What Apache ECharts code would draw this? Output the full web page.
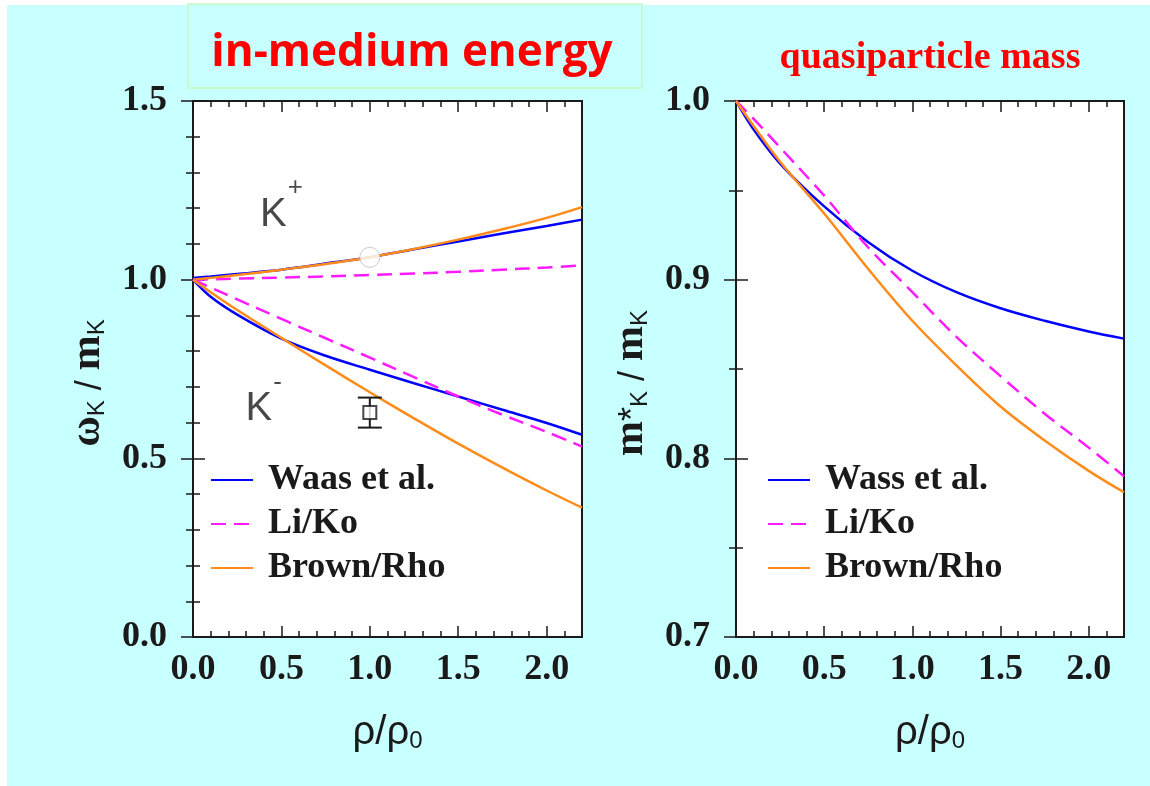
<!DOCTYPE html>
<html>
<head>
<meta charset="utf-8">
<script src="https://cdn.jsdelivr.net/npm/echarts@6/dist/echarts.min.js"></script>
<style>
html, body { margin: 0; padding: 0; background: #fff; }
#bg { position: absolute; left: 7px; top: 5px; width: 1143px; height: 781px; background: #c8ffff; }
#main { position: absolute; left: 0; top: 0; width: 1150px; height: 786px; }
</style>
</head>
<body>
<div id="bg"></div>
<div id="main"></div>
<script>
// density grid rho/rho0
var rho = [0, 0.1, 0.25, 0.5, 0.75, 1.0, 1.25, 1.5, 1.75, 2.0, 2.2];

// left panel: in-medium energy omega_K / m_K
var waasKplus  = [1.005, 1.009, 1.016, 1.028, 1.045, 1.063, 1.085, 1.107, 1.129, 1.150, 1.168];
var likoKplus  = [1.000, 1.001, 1.003, 1.006, 1.009, 1.013, 1.017, 1.022, 1.028, 1.034, 1.040];
var brownKplus = [1.000, 1.005, 1.013, 1.028, 1.044, 1.063, 1.086, 1.112, 1.141, 1.173, 1.203];
var waasKminus  = [1.000, 0.952, 0.902, 0.835, 0.787, 0.748, 0.710, 0.673, 0.636, 0.599, 0.566];
var likoKminus  = [1.000, 0.978, 0.945, 0.890, 0.836, 0.782, 0.727, 0.673, 0.622, 0.574, 0.533];
var brownKminus = [1.000, 0.965, 0.915, 0.837, 0.760, 0.685, 0.612, 0.541, 0.474, 0.410, 0.362];

// data points
var kplusPoint = [[1.0, 1.0625]];
var kminusPoint = [[1.0, 0.628]];
var kminusErr = [[1.0, 0.586, 0.670]];

// right panel: quasiparticle mass m*_K / m_K
var wassMass  = [1.000, 0.984, 0.965, 0.941, 0.921, 0.905, 0.893, 0.884, 0.877, 0.871, 0.867];
var likoMass  = [1.000, 0.990, 0.974, 0.947, 0.918, 0.893, 0.868, 0.846, 0.825, 0.806, 0.790];
var brownMass = [1.000, 0.986, 0.966, 0.937, 0.906, 0.877, 0.852, 0.829, 0.810, 0.793, 0.781];

// label anchors
var kplusLabel = [[0.5, 1.21]];
var kminusLabel = [[0.4, 0.665]];

function pairs(ys) {
    var out = [];
    for (var i = 0; i < rho.length; i++) out.push([rho[i], ys[i]]);
    return out;
}

var serif = 'Liberation Serif';
var sans = 'Liberation Sans';
var frame = '#1a1a1a';
var tickFont = {fontFamily: serif, fontWeight: 'bold', fontSize: 36, color: '#1a1a1a'};

function xAx(grid, pos, major, labels) {
    var a = {
        type: 'value', gridIndex: grid, position: pos, min: 0, max: 2.2,
        interval: major ? 0.5 : 0.1,
        splitLine: {show: false},
        axisLine: {show: false},
        axisTick: {show: true, inside: true, length: major ? 11 : 6, lineStyle: {color: frame, width: 1.5}},
        axisLabel: {show: false}
    };
    if (labels) {
        a.axisLabel = {show: true, margin: 15, showMaxLabel: false,
            formatter: function (v) { return v.toFixed(1); }};
        for (var k in tickFont) a.axisLabel[k] = tickFont[k];
        a.name = '{r|ρ/ρ}{s|0}';
        a.nameLocation = 'middle';
        a.nameGap = 62;
        a.nameTextStyle = {rich: {
            r: {fontFamily: sans, fontSize: 40, color: '#1a1a1a', lineHeight: 54, verticalAlign: 'bottom'},
            s: {fontFamily: sans, fontSize: 24, color: '#1a1a1a', lineHeight: 24, verticalAlign: 'bottom'}
        }};
    }
    return a;
}

function yAx(grid, pos, min, max, interval, minor, labels, name) {
    var a = {
        type: 'value', gridIndex: grid, position: pos, min: min, max: max, interval: interval,
        splitLine: {show: false},
        axisLine: {show: false},
        axisTick: {show: true, inside: true, length: 12, lineStyle: {color: frame, width: 1.5}},
        minorTick: {show: true, splitNumber: minor, length: 7, lineStyle: {color: frame, width: 1.5}},
        axisLabel: {show: false}
    };
    if (labels) {
        a.axisLabel = {show: true, margin: 26, formatter: function (v) { return v.toFixed(1); }};
        for (var k in tickFont) a.axisLabel[k] = tickFont[k];
        a.name = name;
        a.nameLocation = 'middle';
        a.nameRotate = 90;
        a.nameGap = 84;
        a.nameTextStyle = {padding: [0, 28, 0, 0], rich: {
            m: {fontFamily: serif, fontWeight: 'bold', fontSize: 42, color: '#1a1a1a', lineHeight: 56, verticalAlign: 'bottom'},
            n: {fontFamily: sans, fontSize: 36, color: '#1a1a1a', lineHeight: 56, verticalAlign: 'bottom'},
            s: {fontFamily: sans, fontSize: 24, color: '#1a1a1a', lineHeight: 24, verticalAlign: 'bottom'}
        }};
    }
    return a;
}

function curve(name, xi, yi, ys, color, dashed) {
    return {
        name: name, type: 'line', xAxisIndex: xi, yAxisIndex: yi,
        data: pairs(ys), smooth: 0.35, symbol: 'none', showSymbol: false,
        lineStyle: {color: color, width: 2.5, type: dashed ? [15, 8] : 'solid'},
        itemStyle: {color: color},
        z: 3, silent: true
    };
}

function tag(main, sup, pos) {
    return {
        type: 'scatter', xAxisIndex: 0, yAxisIndex: 0, data: pos, symbolSize: 1,
        itemStyle: {color: 'rgba(0,0,0,0)'}, silent: true,
        label: {show: true, position: 'inside', formatter: '{k|' + main + '}{p|' + sup + '}',
            rich: {
                k: {fontFamily: sans, fontSize: 40, color: '#1a1a1a', lineHeight: 44, verticalAlign: 'bottom'},
                p: {fontFamily: sans, fontSize: 26, color: '#1a1a1a', lineHeight: 60, verticalAlign: 'top',
                    padding: [0, 0, 0, 1]}
            }}
    };
}

var blue = '#0000ff', magenta = '#ff1aff', orange = '#ff8c1a';

var legendText = {fontFamily: serif, fontWeight: 'bold', fontSize: 36, color: '#1a1a1a',
    lineHeight: 36, padding: [0, 0, 0, 10]};

var myChart = echarts.init(document.getElementById('main'), null, {renderer: 'canvas'});
myChart.setOption({
    backgroundColor: 'transparent',
    animation: false,
    grid: [
        {left: 193, top: 101, width: 389, height: 536, show: true, backgroundColor: '#fff',
            borderColor: frame, borderWidth: 2},
        {left: 736, top: 101, width: 388, height: 536, show: true, backgroundColor: '#fff',
            borderColor: frame, borderWidth: 2}
    ],
    xAxis: [
        xAx(0, 'bottom', true, true), xAx(0, 'bottom', false, false),
        xAx(0, 'top', true, false), xAx(0, 'top', false, false),
        xAx(1, 'bottom', true, true), xAx(1, 'bottom', false, false),
        xAx(1, 'top', true, false), xAx(1, 'top', false, false)
    ],
    yAxis: [
        yAx(0, 'left', 0, 1.5, 0.5, 5, true, '{m|ω}{s|K}{n| / }{m|m}{s|K}'),
        yAx(0, 'right', 0, 1.5, 0.5, 5, false),
        yAx(1, 'left', 0.7, 1.0, 0.1, 2, true, '{m|m}{n|*}{s|K}{n| / }{m|m}{s|K}'),
        yAx(1, 'right', 0.7, 1.0, 0.1, 2, false)
    ],
    legend: [
        {left: 205, top: 457, orient: 'vertical', itemWidth: 42, itemHeight: 14, itemGap: 8,
            selectedMode: false, itemStyle: {opacity: 0},
            data: ['Waas et al.', 'Li/Ko', 'Brown/Rho'], textStyle: legendText},
        {left: 762, top: 457, orient: 'vertical', itemWidth: 42, itemHeight: 14, itemGap: 8,
            selectedMode: false, itemStyle: {opacity: 0},
            data: ['Wass et al.', 'Li/Ko ', 'Brown/Rho '], textStyle: legendText}
    ],
    graphic: [
        {type: 'rect', shape: {x: 188, y: 4, width: 454, height: 84},
            style: {fill: '#c8ffff', stroke: '#c4f7c4', lineWidth: 1.5}},
        {type: 'text', x: 412, y: 53, style: {text: 'in-medium energy', fill: '#ff0000',
            font: 'bold 44px "Open Sans"', align: 'center', verticalAlign: 'middle'}},
        {type: 'text', x: 930, y: 58, style: {text: 'quasiparticle mass', fill: '#ff0000',
            font: 'bold 38px "Liberation Serif"', align: 'center', verticalAlign: 'middle'}}
    ],
    series: [
        curve('Waas et al.', 0, 0, waasKplus, blue, false),
        curve('Li/Ko', 0, 0, likoKplus, magenta, true),
        curve('Brown/Rho', 0, 0, brownKplus, orange, false),
        curve('Waas et al.', 0, 0, waasKminus, blue, false),
        curve('Li/Ko', 0, 0, likoKminus, magenta, true),
        curve('Brown/Rho', 0, 0, brownKminus, orange, false),
        curve('Wass et al.', 4, 2, wassMass, blue, false),
        curve('Li/Ko ', 4, 2, likoMass, magenta, true),
        curve('Brown/Rho ', 4, 2, brownMass, orange, false),
        {
            type: 'custom', xAxisIndex: 0, yAxisIndex: 0, data: kminusErr, z: 4, silent: true,
            renderItem: function (params, api) {
                var lo = api.coord([api.value(0), api.value(1)]);
                var hi = api.coord([api.value(0), api.value(2)]);
                var w = 12;
                return {type: 'group', children: [
                    {type: 'line', shape: {x1: lo[0], y1: lo[1], x2: hi[0], y2: hi[1]}, style: {stroke: '#1a1a1a', lineWidth: 2}},
                    {type: 'line', shape: {x1: lo[0] - w, y1: lo[1], x2: lo[0] + w, y2: lo[1]}, style: {stroke: '#1a1a1a', lineWidth: 2}},
                    {type: 'line', shape: {x1: hi[0] - w, y1: hi[1], x2: hi[0] + w, y2: hi[1]}, style: {stroke: '#1a1a1a', lineWidth: 2}}
                ]};
            }
        },
        {
            type: 'scatter', xAxisIndex: 0, yAxisIndex: 0, data: kminusPoint, symbol: 'rect',
            symbolSize: 13, z: 5, silent: true,
            itemStyle: {color: '#fff', borderColor: '#1a1a1a', borderWidth: 2}
        },
        {
            type: 'scatter', xAxisIndex: 0, yAxisIndex: 0, data: kplusPoint, symbol: 'circle',
            symbolSize: 20, z: 5, silent: true,
            itemStyle: {color: '#fff', borderColor: '#bbbbbb', borderWidth: 1}
        },
        tag('K', '+', kplusLabel),
        tag('K', '-', kminusLabel)
    ]
});
</script>
</body>
</html>
